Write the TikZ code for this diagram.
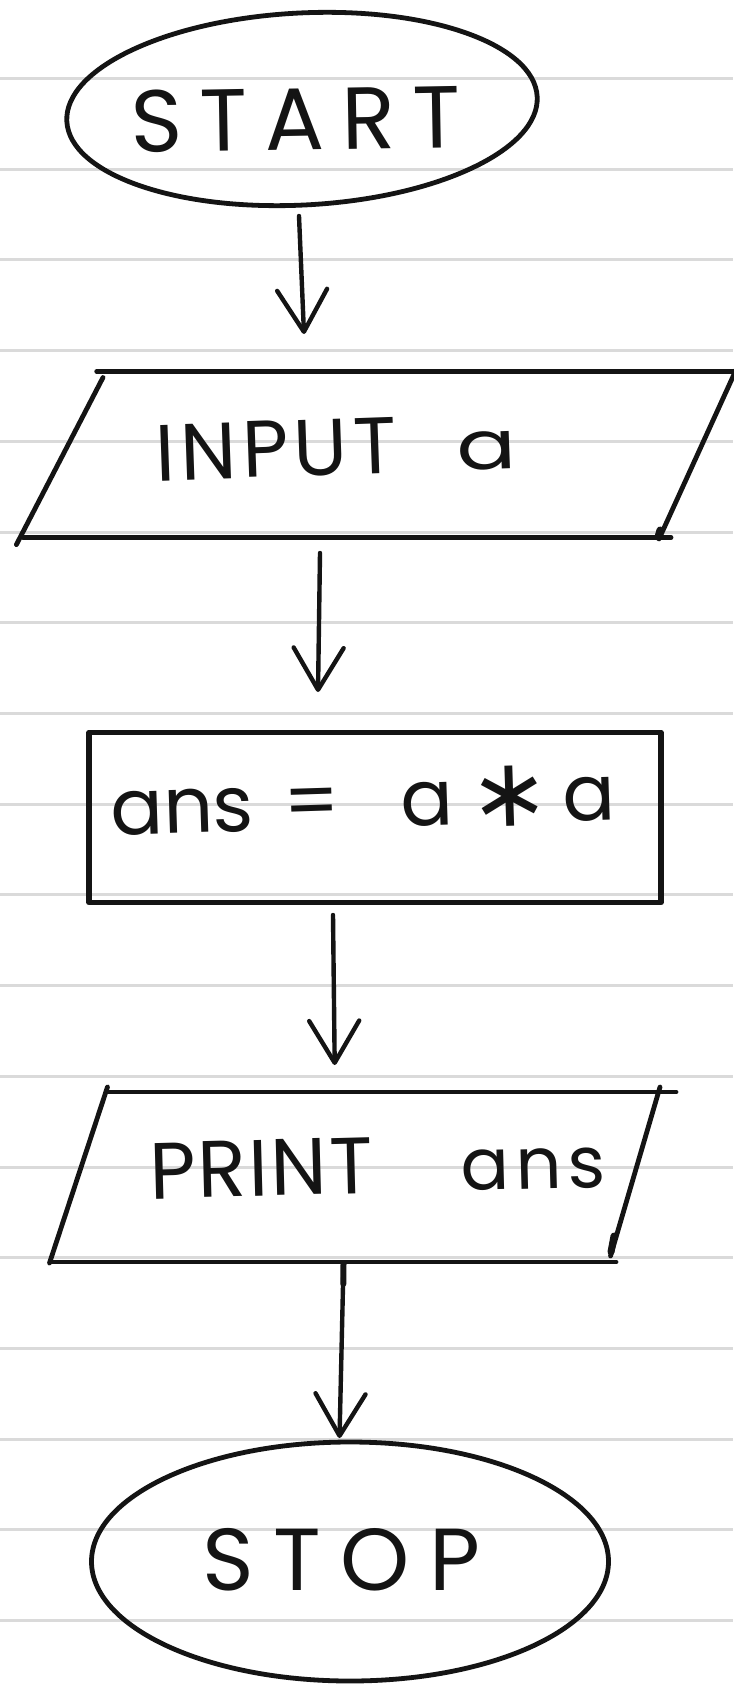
\documentclass[tikz,border=0pt]{standalone}
\usepackage{fontspec}
\setmainfont{Poppins}
\newfontfamily\symfont{DejaVu Sans}
\usetikzlibrary{arrows.meta,shapes.geometric}
\definecolor{penink}{HTML}{141414}
\definecolor{rulegray}{HTML}{DADADA}
% place #2 at horizontal offset #1 without taking up width
\newcommand\putat[2]{\makebox[0pt][l]{\hspace{#1}#2}}
\newcommand\handsize[1]{\fontsize{#1}{#1}\selectfont}
\tikzset{
  pen/.style={draw=penink, line width=4.8pt, line cap=round, line join=round},
  ruling/.style={draw=rulegray, line width=3pt},
  flow/.style={pen, line width=4.4pt, -{Straight Barb[length=42pt,width=50pt,round]}},
  hand/.style={inner sep=0pt, outer sep=0pt, anchor=base west, text=penink},
}
\begin{document}
\begin{tikzpicture}[x=1pt,y=-1pt]
\useasboundingbox (0,0) rectangle (733,1685);
\fill[white] (0,0) rectangle (733,1685);
% notebook ruling
\foreach \k in {0,...,17}
  \draw[ruling] (0,{78.6+90.7*\k}) -- (733,{78.6+90.7*\k});

% START terminal
\node[pen, ellipse, minimum width=471pt, minimum height=192pt, inner sep=0pt, rotate=3] (start) at (302,109) {};
\node[hand, rotate=1, font=\handsize{88pt}] (starttxt) at (131,153)
  {\makebox[330pt]{S\hfill T\hfill A\hfill R\hfill T}};

% INPUT a (parallelogram drawn as four strokes)
\coordinate (inTL) at (96.7,371.4);
\coordinate (inTR) at (745,371.4);
\coordinate (inLT) at (103,377.5);
\coordinate (inLB) at (16.4,544.6);
\coordinate (inBL) at (23,537.5);
\coordinate (inBR) at (671,537.5);
\coordinate (inRT) at (741,359);
\coordinate (inRB) at (659,539);
\draw[pen] (inTL) -- (inTR);
\draw[pen] (inLT) -- (inLB);
\draw[pen] (inBL) -- (inBR);
\draw[pen] (inRT) -- (inRB);
\draw[pen, line width=7pt] (660,530) -- (658,537);
\node[hand, rotate=2, font=\handsize{80pt}] (inputtxt) at (156,481)
  {\makebox[362pt][l]{\putat{0pt}{\makebox[242pt]{I\hfill N\hfill P\hfill U\hfill T}}%
   \putat{302pt}{\scalebox{1.3}[1]{\handsize{68pt}a}}}};

% ans = a * a
\node[pen, rectangle, line width=5.5pt, minimum width=572pt, minimum height=170pt, inner sep=0pt] (calc) at (375,817.5) {};
\node[hand, rotate=1.8, font=\handsize{78pt}] (calctxt) at (119,835)
  {\makebox[491pt][l]{\putat{0pt}{\makebox[128pt]{a\hfill n\hfill s}}%
   \putat{166pt}{=}%
   \putat{283pt}{a}%
   \putat{352pt}{\raisebox{-4pt}{\symfont\handsize{96pt}∗}}%
   \putat{445pt}{a}}};

% PRINT ans
\coordinate (prTL) at (107.5,1092);
\coordinate (prTR) at (676,1092);
\coordinate (prLT) at (107.5,1087);
\coordinate (prLB) at (49.5,1263);
\coordinate (prBL) at (51,1262);
\coordinate (prBR) at (616,1262);
\coordinate (prRT) at (660,1087);
\coordinate (prRB) at (610.5,1256);
\draw[pen] (prTL) -- (prTR);
\draw[pen] (prLT) -- (prLB);
\draw[pen] (prBL) -- (prBR);
\draw[pen] (prRT) -- (prRB);
\draw[pen, line width=7pt] (614,1236) -- (611,1252);
\node[hand, rotate=1.5, font=\handsize{80pt}] (printtxt) at (150,1199)
  {\makebox[457pt][l]{\putat{0pt}{\makebox[224pt]{P\hfill R\hfill I\hfill N\hfill T}}%
   \putat{312pt}{\handsize{72pt}\makebox[144pt]{a\hfill n\hfill s}}}};

% STOP terminal
\node[pen, ellipse, minimum width=517pt, minimum height=239pt, inner sep=0pt] (stop) at (350,1561.5) {};
\node[hand, font=\handsize{88pt}] (stoptxt) at (202,1590)
  {\makebox[278pt]{S\hfill T\hfill O\hfill P}};

% connectors
\coordinate (f1a) at (299,216);   \coordinate (f1b) at (304,334);
\coordinate (f2a) at (320,553);   \coordinate (f2b) at (318,692);
\coordinate (f3a) at (333,915);   \coordinate (f3b) at (334.7,1065);
\coordinate (f4a) at (343.5,1264); \coordinate (f4b) at (339.5,1438);
\draw[flow] (f1a) -- (f1b);
\draw[flow] (f2a) -- (f2b);
\draw[flow] (f3a) -- (f3b);
\draw[flow] (f4a) -- (f4b);
\draw[pen, line width=6pt] (343.5,1264) -- (343.3,1284);
\end{tikzpicture}
\end{document}
